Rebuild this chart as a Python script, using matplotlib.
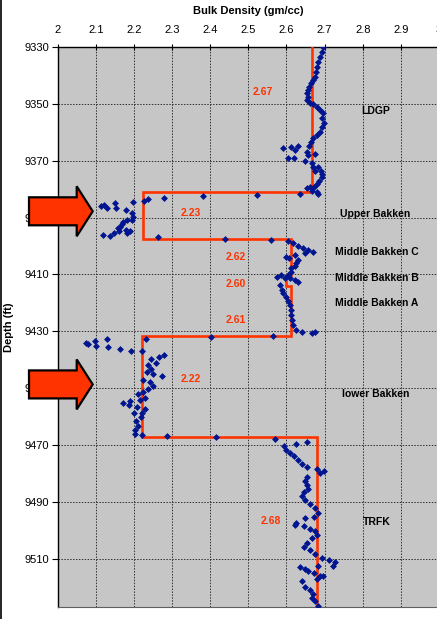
import numpy as np
import matplotlib.pyplot as plt
from matplotlib.patches import Polygon
from matplotlib.lines import Line2D

plt.rcParams['font.family'] = ['Liberation Sans', 'DejaVu Sans']

# bulk density log points (gm/cc) vs depth (ft), per zone
ldgp_rhob = [2.696, 2.692, 2.688, 2.683, 2.681, 2.677, 2.674, 2.670, 2.664, 2.659,
             2.657, 2.655, 2.657, 2.655, 2.661, 2.670, 2.679, 2.688, 2.696, 2.694,
             2.699, 2.692, 2.688, 2.679, 2.670, 2.664, 2.660,
             2.591, 2.613, 2.631, 2.622, 2.603, 2.620, 2.653, 2.657, 2.674, 2.648,
             2.666, 2.670, 2.683, 2.674, 2.690, 2.694, 2.692, 2.685, 2.679, 2.673,
             2.661, 2.653, 2.666, 2.679, 2.683, 2.635]
ldgp_depth = [9329.9, 9331.6, 9333.4, 9335.2, 9336.9, 9338.7, 9340.4, 9341.6, 9342.8, 9343.9,
              9345.1, 9346.3, 9347.5, 9348.6, 9349.6, 9350.2, 9351.0, 9352.2, 9353.3, 9355.1,
              9356.8, 9358.0, 9359.8, 9360.9, 9362.1, 9363.3, 9364.8,
              9365.6, 9365.3, 9364.8, 9366.4, 9368.9, 9368.9, 9366.8, 9368.0, 9367.6, 9370.0,
              9370.9, 9372.1, 9372.1, 9373.5, 9373.5, 9374.7, 9375.8, 9377.0, 9378.2, 9379.1,
              9379.1, 9379.5, 9380.5, 9380.9, 9381.7, 9381.7]

upper_rhob = [2.522, 2.113, 2.121, 2.128, 2.149, 2.153, 2.179, 2.197, 2.226, 2.238,
              2.280, 2.380, 2.194, 2.197, 2.194, 2.181, 2.172, 2.168, 2.163, 2.159,
              2.162, 2.179, 2.190, 2.183, 2.118, 2.137, 2.148, 2.264, 2.439]
upper_depth = [9382.0, 9386.1, 9385.6, 9386.7, 9385.0, 9386.7, 9387.3, 9384.6, 9384.0, 9383.4,
               9383.0, 9382.4, 9388.5, 9389.7, 9390.8, 9390.8, 9391.4, 9392.2, 9393.2, 9393.8,
               9394.9, 9394.3, 9394.9, 9395.3, 9396.1, 9396.5, 9395.5, 9397.0, 9397.6]

middle_rhob = [2.559, 2.605, 2.618, 2.631, 2.644, 2.657, 2.670, 2.648, 2.598, 2.606,
               2.622, 2.631, 2.626, 2.622, 2.613, 2.612, 2.605, 2.596, 2.585, 2.574,
               2.609, 2.622, 2.631, 2.583, 2.587, 2.592, 2.598, 2.603, 2.609, 2.612,
               2.613, 2.615, 2.618, 2.624, 2.640, 2.666, 2.675, 2.565]
middle_depth = [9397.9, 9398.4, 9399.0, 9399.9, 9400.6, 9401.4, 9402.0, 9402.6, 9403.7, 9404.3,
                9403.1, 9404.9, 9406.1, 9407.2, 9407.8, 9409.0, 9410.2, 9411.1, 9410.2, 9410.8,
                9411.3, 9411.9, 9412.7, 9413.7, 9415.4, 9416.6, 9418.1, 9419.5, 9420.7, 9422.5,
                9424.2, 9426.0, 9427.8, 9429.5, 9430.1, 9430.7, 9430.1, 9431.5]

lower_rhob = [2.074, 2.080, 2.098, 2.100, 2.130, 2.133, 2.163, 2.192, 2.222, 2.232,
              2.401, 2.246, 2.259, 2.266, 2.279, 2.238, 2.244, 2.233, 2.251, 2.273,
              2.225, 2.242, 2.249, 2.238, 2.225, 2.211, 2.229, 2.216, 2.170, 2.190,
              2.188, 2.209, 2.229, 2.220, 2.200, 2.218, 2.205, 2.211, 2.203, 2.203,
              2.220, 2.287, 2.415]
lower_depth = [9434.0, 9434.6, 9433.4, 9435.1, 9432.8, 9435.6, 9436.2, 9436.8, 9437.1, 9432.7,
               9432.1, 9439.8, 9441.0, 9438.9, 9438.3, 9441.8, 9443.3, 9444.5, 9445.0, 9445.7,
               9447.1, 9448.0, 9449.2, 9450.4, 9451.2, 9452.0, 9453.5, 9454.1, 9455.1, 9454.7,
               9455.9, 9456.7, 9457.4, 9458.6, 9458.6, 9460.2, 9461.7, 9463.5, 9464.7, 9466.1,
               9466.4, 9467.0, 9467.2]

trfk_rhob = [2.571, 2.624, 2.655, 2.594, 2.600, 2.609, 2.620, 2.629, 2.640, 2.653,
             2.679, 2.699, 2.688, 2.653, 2.648, 2.653, 2.657, 2.647, 2.641, 2.648,
             2.661, 2.675, 2.683, 2.673, 2.648, 2.626, 2.622, 2.647, 2.661, 2.675,
             2.679, 2.666, 2.653, 2.647, 2.661, 2.675, 2.692, 2.711, 2.727, 2.723,
             2.635, 2.648, 2.657, 2.673, 2.683, 2.688, 2.696, 2.679, 2.640, 2.648,
             2.661, 2.670, 2.666, 2.676, 2.683]
trfk_depth = [9467.9, 9469.6, 9468.8, 9470.3, 9471.7, 9472.9, 9473.8, 9475.2, 9476.6, 9477.6,
              9478.5, 9479.3, 9479.9, 9481.1, 9482.5, 9484.0, 9485.5, 9486.7, 9488.1, 9489.5,
              9490.7, 9492.2, 9494.0, 9495.4, 9495.7, 9497.3, 9498.1, 9498.4, 9499.6, 9500.4,
              9501.6, 9502.8, 9504.5, 9505.9, 9507.1, 9508.3, 9509.8, 9510.4, 9511.3, 9512.5,
              9513.0, 9513.7, 9514.5, 9515.1, 9512.5, 9516.2, 9516.0, 9517.2, 9518.0, 9519.8,
              9520.9, 9522.3, 9523.9, 9525.0, 9526.6]

# average density per zone (step line)
zone_top = [9330, 9381, 9397.5, 9410.2, 9414, 9431.5, 9467.3]
zone_base = [9381, 9397.5, 9410.2, 9414, 9431.5, 9467.3, 9527]
zone_avg = [2.668, 2.224, 2.612, 2.598, 2.612, 2.222, 2.681]

avg_labels = ['2.67', '2.23', '2.62', '2.60', '2.61', '2.22', '2.68']
avg_label_x = [2.539, 2.348, 2.467, 2.467, 2.467, 2.348, 2.560]
avg_label_y = [9346, 9388.4, 9403.8, 9413.3, 9426, 9446.7, 9496.7]

formations = ['LDGP', 'Upper Bakken', 'Middle Bakken C', 'Middle Bakken B',
              'Middle Bakken A', 'lower Bakken', 'TRFK']
formation_x = [2.833, 2.833, 2.836, 2.836, 2.836, 2.833, 2.838]
formation_y = [9352.5, 9388.7, 9402, 9411.2, 9420, 9452, 9497]

# arrows pointing at the two Bakken shales
arrow_depth = [9387.8, 9448.7]

rhob = np.concatenate([ldgp_rhob, upper_rhob, middle_rhob, lower_rhob, trfk_rhob])
depth = np.concatenate([ldgp_depth, upper_depth, middle_depth, lower_depth, trfk_depth])

W, H = 437, 619
fig = plt.figure(figsize=(W / 100, H / 100), dpi=100)
fig.patch.set_facecolor('white')
ax = fig.add_axes([57.7 / W, 12 / H, 381.3 / W, 560 / H])
ax.set_facecolor('#c6c6c6')

red = '#ff3300'
step_x = np.ravel([[v, v] for v in zone_avg])
step_y = np.ravel([[t, b] for t, b in zip(zone_top, zone_base)])
ax.plot(step_x, step_y, color=red, lw=1.9, zorder=3, solid_joinstyle='miter')

ax.plot(rhob, depth, 'D', color='#00158f', ms=3.0, mec='#00158f', mew=0.5, zorder=4)

for s, x, y in zip(avg_labels, avg_label_x, avg_label_y):
    ax.text(x, y, s, color=red, fontsize=7.5, fontweight='bold', ha='center', va='center')
for s, x, y in zip(formations, formation_x, formation_y):
    ax.text(x, y, s, color='black', fontsize=7.5, fontweight='bold', ha='center', va='center')

ax.set_xlim(2, 3)
ax.set_ylim(9527, 9330)
ax.set_xticks(np.arange(2, 3.01, 0.1))
ax.set_xticklabels(['2', '2.1', '2.2', '2.3', '2.4', '2.5', '2.6', '2.7', '2.8', '2.9', '3'])
ax.set_yticks(np.arange(9330, 9511, 20))
ax.xaxis.tick_top()
ax.xaxis.set_label_position('top')
ax.tick_params(axis='x', direction='inout', length=5, width=0.8, labelsize=8, pad=6, colors='black')
ax.tick_params(axis='y', direction='out', length=4, width=0.8, labelsize=8, pad=2)
ax.set_xlabel('Bulk Density (gm/cc)', fontsize=8, fontweight='bold', labelpad=8)
ax.set_ylabel('Depth (ft)', fontsize=8, fontweight='bold', labelpad=8)
ax.grid(True, color='#303030', linestyle=(0, (1.5, 1.5)), linewidth=0.7)
ax.set_axisbelow(True)
for side in ['top', 'left']:
    ax.spines[side].set_linewidth(1.0)
ax.spines['bottom'].set_color('#606060')
ax.spines['right'].set_visible(False)

# block arrows, shape in pixels, placed at the target depths
for d in arrow_depth:
    yp = ax.transData.transform((2, d))[1]
    pts = [(29, yp - 14), (76.7, yp - 14), (76.7, yp - 25), (92.7, yp),
           (76.7, yp + 25), (76.7, yp + 14), (29, yp + 14)]
    pts = [(px / W, py / H) for px, py in pts]
    fig.patches.append(Polygon(pts, closed=True, transform=fig.transFigure,
                               facecolor=red, edgecolor='black', lw=1.6, zorder=10,
                               joinstyle='miter'))

# frame line at the left edge of the picture
fig.lines.append(Line2D([1 / W, 1 / W], [0, 1], transform=fig.transFigure, color='black', lw=1.2))

plt.savefig('out.png', dpi=100)
